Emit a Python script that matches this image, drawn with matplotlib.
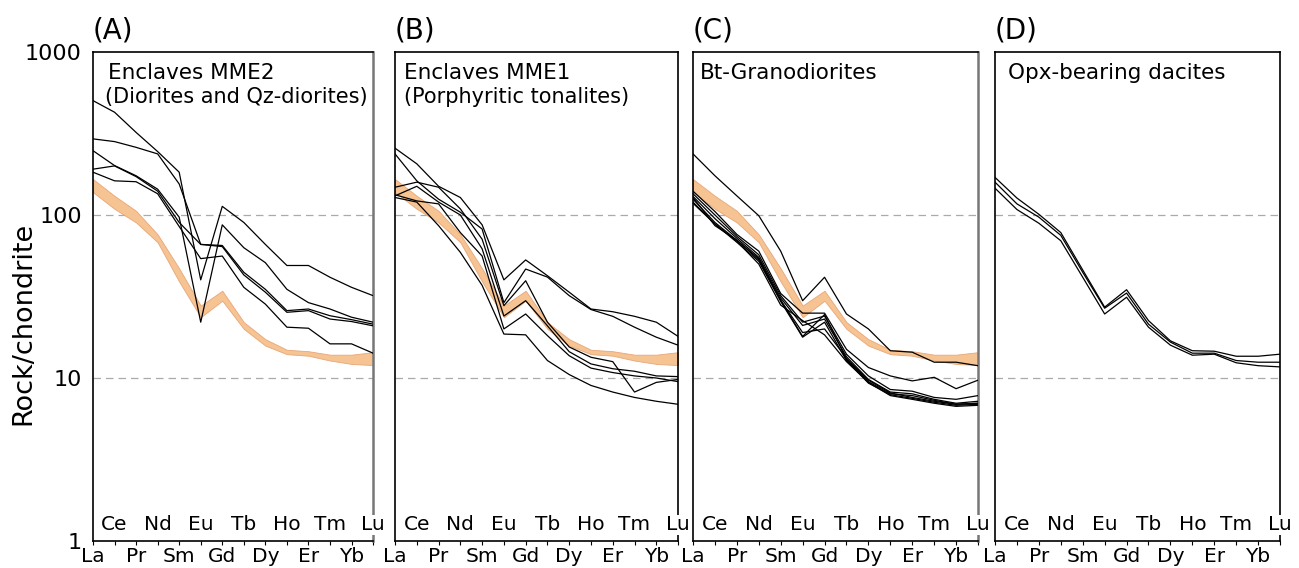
import matplotlib.pyplot as plt
from matplotlib.transforms import blended_transform_factory

elements = ["La", "Ce", "Pr", "Nd", "Sm", "Eu", "Gd", "Tb", "Dy", "Ho", "Er", "Tm", "Yb", "Lu"]

# orange reference field (same in A, B, C)
band_hi = [166, 131, 106, 76, 47, 27.8, 34.3, 22, 17.3, 14.9, 14.6, 13.9, 13.9, 14.4]
band_lo = [138, 109, 90, 68, 39, 23.6, 29.8, 20, 15.8, 14.0, 13.7, 12.8, 12.2, 12.0]

# (A) Enclaves MME2
mme2 = [
    [503, 427, 321, 245, 183, 40, 113, 90, 66, 49, 49, 41.5, 36, 32],
    [293, 282, 260, 237, 155, 66, 65, 44.5, 35, 25.9, 26.5, 24.1, 22.8, 21.4],
    [248, 201, 174, 144, 97, 22, 87, 63, 51, 35, 29, 26.5, 23.6, 22],
    [191, 200, 172, 140, 90, 66, 64, 42.9, 33.6, 25.3, 25.9, 23, 22.2, 20.9],
    [183, 162, 160, 135, 85, 54, 56, 36, 28.4, 20.5, 20.2, 16.2, 16.2, 14.2],
]

# (B) Enclaves MME1
mme1 = [
    [257, 206, 150, 128, 87, 40, 53, 42.4, 33.6, 26.5, 25.5, 23.9, 22, 18],
    [237, 162, 125, 104, 82, 29, 46.6, 41.6, 32, 26.3, 23.9, 20.5, 17.8, 15.9],
    [148, 159, 148, 109, 71, 27.8, 39.5, 22, 15.5, 13.4, 12.6, 8.2, 9.4, 9.8],
    [131, 150, 120, 100, 62, 24, 29.8, 20.9, 14.5, 12.2, 11.4, 11.0, 10.3, 10.2],
    [133, 122, 117, 78, 56, 20, 24.7, 18.2, 13.7, 11.5, 10.8, 10.3, 10.0, 9.5],
    [128, 120, 86, 59, 37, 18.6, 18.4, 12.8, 10.5, 9.0, 8.2, 7.6, 7.2, 6.9],
]

# (C) Bt-Granodiorites
granodiorites = [
    [237, 174, 131, 99, 60, 29.8, 41.5, 24.7, 20, 14.7, 14.4, 12.5, 12.5, 11.9],
    [140, 105, 76, 60, 33, 25, 25, 15, 11.6, 10.3, 9.6, 10.1, 8.6, 9.7],
    [135, 100, 74, 57, 32, 22, 24, 14, 10.3, 8.5, 8.3, 7.6, 7.4, 7.8],
    [130, 95, 72, 55, 31, 21, 23, 13.5, 9.8, 8.2, 8.0, 7.4, 7.0, 7.2],
    [125, 90, 70, 53, 30, 18, 24.5, 13, 9.5, 8.0, 7.8, 7.3, 6.9, 7.0],
    [120, 88, 68, 52, 29.5, 17.8, 22, 12.8, 9.3, 7.9, 7.5, 7.1, 6.8, 6.9],
    [128, 86, 70, 54, 30, 19, 20, 13.2, 9.7, 8.1, 7.6, 7.2, 6.9, 7.0],
    [118, 88, 69, 50, 28, 22.5, 18.4, 12.6, 9.4, 7.8, 7.4, 7.0, 6.7, 6.8],
]

# (D) Opx-bearing dacites
dacites = [
    [170, 127, 101, 78, 46, 27.2, 34.8, 22.5, 16.9, 14.7, 14.6, 13.6, 13.6, 14.0],
    [159, 117, 97, 75, 44.5, 26.8, 33.2, 21.4, 16.6, 14.2, 14.2, 12.8, 12.5, 12.5],
    [146, 108, 89, 69.5, 41.5, 24.7, 31.3, 20.5, 15.9, 13.8, 14.0, 12.4, 11.9, 11.7],
]

panels = [
    ("(A)", ["Enclaves MME2", "(Diorites and Qz-diorites)"], mme2, True, [0.0716, 0.2156]),
    ("(B)", ["Enclaves MME1", "(Porphyritic tonalites)"], mme1, True, [0.3041, 0.2179]),
    ("(C)", ["Bt-Granodiorites"], granodiorites, True, [0.5335, 0.2194]),
    ("(D)", ["Opx-bearing dacites"], dacites, False, [0.766, 0.2194]),
]
text_x = [0.055, 0.03, 0.025, 0.045]

plt.rcParams["font.family"] = "DejaVu Sans"
fig = plt.figure(figsize=(12.99, 5.68), dpi=100)

xs = list(range(len(elements)))
for k, (tag, desc, lines, band, (left, width)) in enumerate(panels):
    ax = fig.add_axes([left, 0.0475, width, 0.861])
    ax.set_yscale("log")
    ax.set_ylim(1, 1000)
    ax.set_xlim(0, len(elements) - 1)

    for yv in [10, 100]:
        ax.axhline(yv, color="#aaaaaa", lw=0.9, ls=(0, (6, 4)), zorder=1)

    if band:
        ax.fill_between(xs, band_lo, band_hi, facecolor="#f6c392",
                        edgecolor="#e9a677", lw=0.6, zorder=2)
    for row in lines:
        ax.plot(xs, row, color="black", lw=0.9, zorder=3)

    # bottom labels: La, Pr, Sm ... below; Ce, Nd, Eu ... inside
    ax.set_xticks(xs)
    ax.set_xticklabels([e if i % 2 == 0 else "" for i, e in enumerate(elements)], fontsize=14.5)
    ax.tick_params(axis="x", direction="out", length=3, width=0.8, pad=1)
    trans = blended_transform_factory(ax.transData, ax.transAxes)
    for i, e in enumerate(elements):
        if i % 2 == 1:
            ax.text(i, 0.033, e, transform=trans, ha="center", va="center",
                    fontsize=14.5, zorder=5,
                    bbox=dict(fc="white", ec="none", pad=0.5) if i == len(elements) - 1 else None)

    ax.minorticks_off()
    if k == 0:
        ax.set_yticks([1, 10, 100, 1000])
        ax.set_yticklabels(["1", "10", "100", "1000"], fontsize=16)
        ax.tick_params(axis="y", length=0, pad=8)
    else:
        ax.set_yticks([])

    for s in ax.spines.values():
        s.set_linewidth(1.2)
    if k in (0, 2):
        ax.spines["right"].set_color("#777777")
        ax.spines["right"].set_linewidth(1.8)

    ax.text(0.0, 1.015, tag, transform=ax.transAxes, ha="left", va="bottom", fontsize=20)
    for j, t in enumerate(desc):
        ax.text(text_x[k] - 0.012 * j * (k == 0), 0.958 - j * 0.051, t, transform=ax.transAxes,
                ha="left", va="center", fontsize=15.5 if j == 0 else 15)

fig.text(0.018, 0.43, "Rock/chondrite", rotation=90, ha="center", va="center", fontsize=19.5)

fig.savefig("out.png", dpi=100)
